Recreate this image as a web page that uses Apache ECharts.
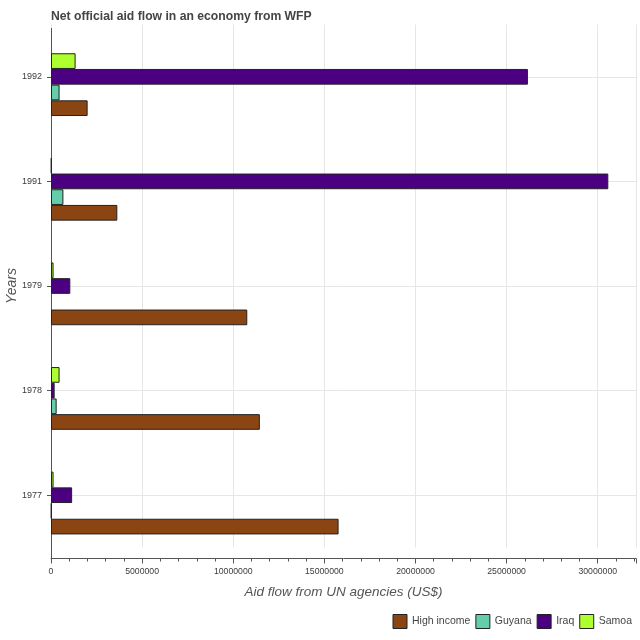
<!DOCTYPE html>
<html>
<head>
<meta charset="utf-8">
<script src="https://cdn.jsdelivr.net/npm/echarts@6/dist/echarts.min.js"></script>
<style>html,body{margin:0;padding:0;background:#fff;}#c{width:640px;height:640px;}</style>
</head>
<body>
<div id="c"></div>
<script>
const years = ['1977', '1978', '1979', '1991', '1992'];
const highIncome = [15780000, 11460000, 10770000, 3640000, 2010000];
const guyana = [30000, 310000, null, 680000, 470000];
const iraq = [1160000, 200000, 1060000, 30580000, 26170000];
const samoa = [140000, 470000, 140000, 30000, 1350000];
const seriesNames = ['High income', 'Guyana', 'Iraq', 'Samoa'];
const seriesColors = ['#8B4513', '#66CDAA', '#4B0082', '#ADFF2F'];
const seriesValues = [highIncome, guyana, iraq, samoa];

const FONT = 'Liberation Sans';
const AXIS = '#555';
const chart = echarts.init(document.getElementById('c'));

function barSeries(i) {
  return {
    name: seriesNames[i],
    type: 'bar',
    data: seriesValues[i],
    barWidth: '15%',
    barGap: '0%',
    itemStyle: { color: seriesColors[i], borderColor: '#222', borderWidth: 1 },
    emphasis: { disabled: true }
  };
}
// stacking order top→bottom: empty slot, Samoa, Iraq, Guyana, High income
const series = [
  { name: 'pad', type: 'bar', data: [], barWidth: '15%', barGap: '0%' },
  barSeries(3), barSeries(2), barSeries(1), barSeries(0)
];

const gridTop = 24.5, gridBottom = 92.5, gridLeft = 51, xOffset = 11;

chart.setOption({
  animation: false,
  title: {
    text: 'Net official aid flow in an economy from WFP',
    left: 51, top: 11, padding: 0,
    textStyle: { fontSize: 12.2, fontWeight: 'bold', color: '#444', fontFamily: FONT }
  },
  legend: {
    data: seriesNames.map((n, i) => ({ name: n, itemStyle: { color: seriesColors[i], borderColor: '#222', borderWidth: 1 } })),
    right: 3, bottom: 6,
    icon: 'rect', itemWidth: 14, itemHeight: 14, itemGap: 5,
    textStyle: { fontSize: 10.5, color: '#444', fontFamily: FONT }
  },
  grid: { left: gridLeft, right: 4, top: gridTop, bottom: gridBottom, containLabel: false, outerBoundsMode: 'none' },
  xAxis: {
    type: 'value',
    min: 0, max: 32100000, interval: 5000000,
    offset: xOffset,
    name: 'Aid flow from UN agencies (US$)',
    nameLocation: 'middle', nameGap: 27,
    nameTextStyle: { fontSize: 13.5, fontStyle: 'italic', color: '#555', fontFamily: FONT },
    axisLine: { show: true, lineStyle: { color: AXIS } },
    axisTick: { show: true, length: 5, lineStyle: { color: AXIS } },
    minorTick: { show: true, splitNumber: 5, length: 3, lineStyle: { color: AXIS } },
    axisLabel: { fontSize: 8.7, color: '#3a3a3a', margin: 9, fontFamily: FONT, formatter: v => String(v) },
    splitLine: { show: true, lineStyle: { color: '#e6e6e6' } }
  },
  yAxis: {
    type: 'category',
    data: years,
    name: 'Years',
    nameLocation: 'middle', nameGap: 32, nameMoveOverlap: false,
    nameTextStyle: { fontSize: 14, fontStyle: 'italic', color: '#555', fontFamily: FONT },
    axisLine: { show: false },
    axisTick: { show: true, length: 4, alignWithLabel: true, lineStyle: { color: AXIS } },
    axisLabel: { fontSize: 9, color: '#3a3a3a', margin: 9, fontFamily: FONT },
    splitLine: { show: true, alignWithLabel: true, lineStyle: { color: '#e6e6e6' } }
  },
  graphic: [{
    type: 'line',
    shape: { x1: gridLeft + 0.5, y1: 28, x2: gridLeft + 0.5, y2: 640 - gridBottom + xOffset },
    style: { stroke: AXIS, lineWidth: 1 },
    z: 1
  }],
  series: series
});
</script>
</body>
</html>
